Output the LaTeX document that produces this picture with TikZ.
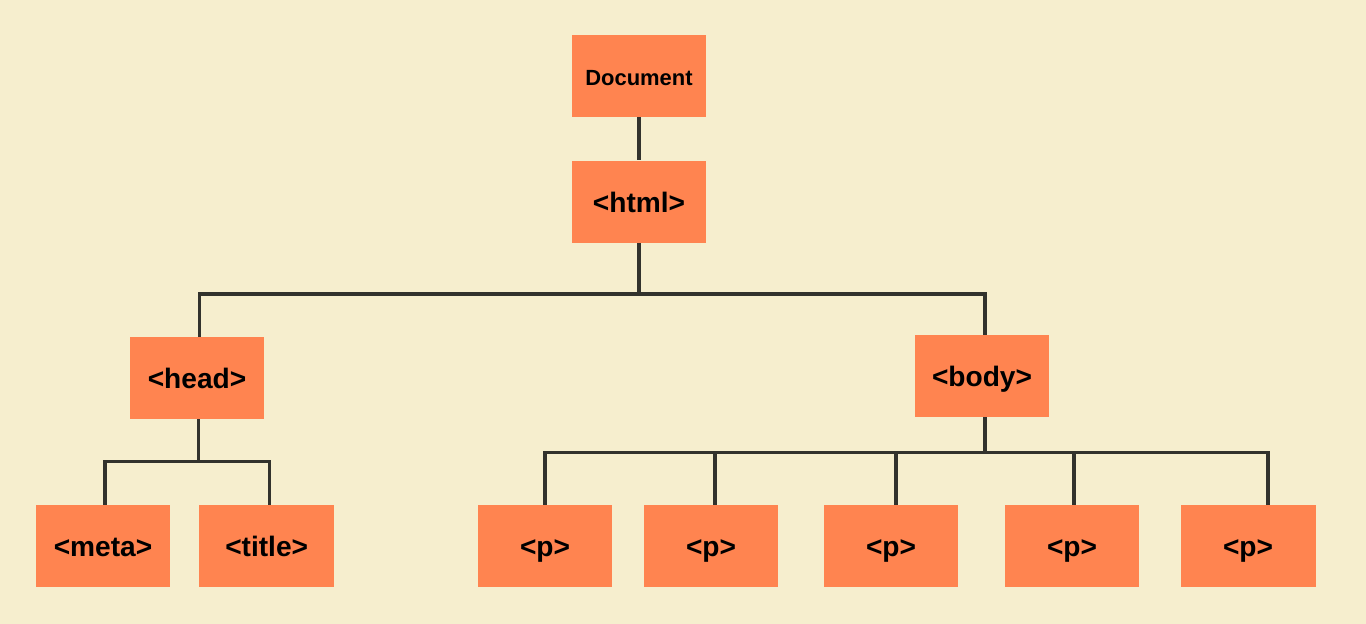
\documentclass[tikz,border=0pt]{standalone}
\usepackage{fontspec}
\setmainfont{Liberation Sans}
\usepackage{tikz}
\usetikzlibrary{positioning}
\definecolor{paper}{RGB}{246,238,206}
\definecolor{tagfill}{RGB}{255,132,80}
\definecolor{wire}{RGB}{50,50,45}
\tikzstyle{tag} = [rectangle, minimum width=2.7cm, minimum height=1.64cm, text centered, text height=14pt, text depth=2pt, fill=tagfill, font=\bfseries\fontsize{16}{19}\selectfont]
\tikzstyle{link} = [line width=1.8pt, draw=wire]

\begin{document}
\begin{tikzpicture}[x=0.02cm, y=-0.02cm]
	\fill[paper] (0,0) rectangle (1366,624);
	\node (doc) [tag, text height=12pt, text depth=1pt, font=\bfseries\fontsize{12.5}{15}\selectfont] at (639,76) {Document};
	\node (html) [tag, below=0.86cm of doc] {<html>};
	\node (head) [tag] at (197,378) {<head>};
	\node (body) [tag] at (982,376) {<body>};
	\node (meta) [tag] at (103,546) {<meta>};
	\node (title) [tag, right=0.56cm of meta] {<title>};
	\node (p1) [tag] at (545,546) {<p>};
	\node (p2) [tag] at (711,546) {<p>};
	\node (p3) [tag] at (891,546) {<p>};
	\node (p4) [tag] at (1072,546) {<p>};
	\node (p5) [tag] at (1248,546) {<p>};
	\draw [link] (doc) -- (html);
	\draw [link] (html.south) -- ++(0,51) coordinate (topbar);
	\draw [link] ([xshift=0.05cm]head.north) |- (topbar) -| ([xshift=0.06cm]body.north);
	\draw [link] ([xshift=0.03cm]head.south) -- ++(0,42) coordinate (headbar);
	\draw [link] ([xshift=0.04cm]meta.north) |- (headbar) -| ([xshift=0.06cm]title.north);
	\draw [link] ([xshift=0.06cm]body.south) -- ++(0,35) coordinate (bodybar);
	\draw [link] (p1.north) |- (bodybar) -| ([xshift=0.4cm]p5.north);
	\foreach \n/\dx in {2/0.08,3/0.1,4/0.04}
		\draw [link] ([xshift=\dx cm]p\n.north) -- ++(0,-53);
\end{tikzpicture}
\end{document}
